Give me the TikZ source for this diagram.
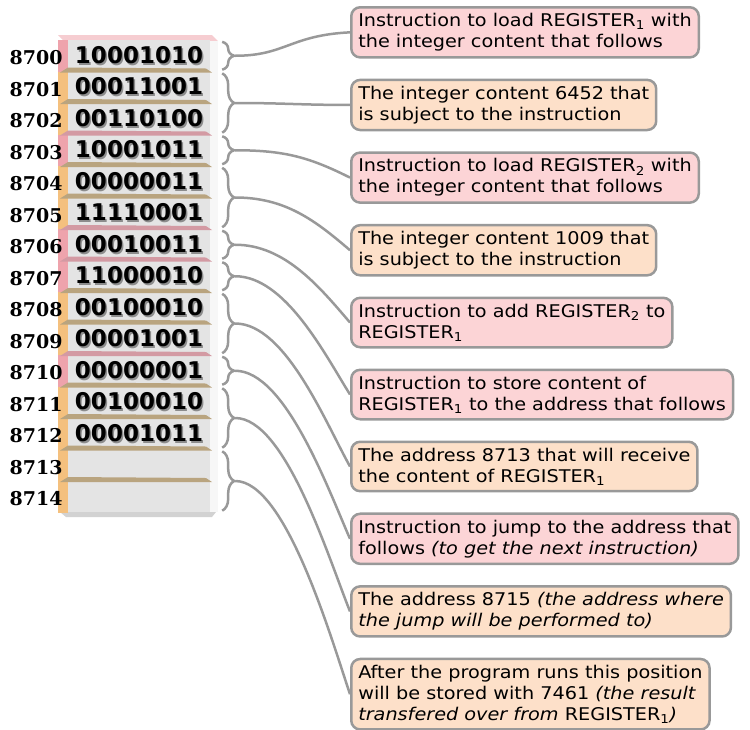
\documentclass[tikz,border=0pt]{standalone}
\usepackage{fontspec}
\setmainfont{DejaVu Sans}[FakeStretch=1.1]
\newfontfamily\addrfont{DejaVu Serif}
\newfontfamily\bitfont{DejaVu Sans}
\usetikzlibrary{positioning,calc,decorations.pathreplacing}

\definecolor{instrfill}{HTML}{FCD4D6}
\definecolor{datafill}{HTML}{FDE0C9}
\definecolor{instrside}{HTML}{EEA3AC}
\definecolor{dataside}{HTML}{F4C07E}
\definecolor{instrshelf}{HTML}{D39AA3}
\definecolor{datashelf}{HTML}{B9A47F}
\definecolor{edgegray}{HTML}{999999}
\definecolor{facegray}{HTML}{E4E4E4}

\tikzset{
  note/.style={draw=edgegray, line width=2.5pt, rounded corners=9pt, align=left,
    inner xsep=7pt, inner ysep=6.1pt, font=\fontsize{17.5}{21}\selectfont},
  instr/.style={note, fill=instrfill},
  datum/.style={note, fill=datafill},
  cell/.style={minimum width=142pt, minimum height=31.5pt, inner sep=0pt,
    font=\bitfont\bfseries\fontsize{23}{23}\selectfont},
  addr/.style={font=\addrfont\bfseries\fontsize{19}{19}\selectfont, inner sep=0pt, anchor=east},
  grp/.style={draw=edgegray, line width=2.5pt, decorate, decoration={brace, amplitude=12pt}},
  link/.style={draw=edgegray, line width=2.5pt},
}

\newcommand{\shadowbits}[1]{\rlap{\raisebox{-2pt}{\kern1.5pt\textcolor{black!45}{#1}}}#1}
\newcommand{\regsub}[1]{REGISTER\textsubscript{#1}}

\begin{document}
\begin{tikzpicture}[x=1pt, y=-1pt]
  \useasboundingbox (0,0) rectangle (750,729);

  % memory column
  \fill[instrside!55] (58,35) -- (212,35) -- (218,41) -- (64,41) -- cycle;
  \fill[gray!6] (210,41) rectangle (218,512);
  \fill[gray!35] (60,512) -- (216,512) -- (212,517) -- (66,517) -- cycle;
  \fill[facegray] (68,40) rectangle (210,512);
  \foreach \i/\bits/\side/\shelf in {
      0/10001010/instrside/instrshelf, 1/00011001/dataside/datashelf,
      2/00110100/dataside/datashelf, 3/10001011/instrside/instrshelf,
      4/00000011/dataside/datashelf, 5/11110001/dataside/datashelf,
      6/00010011/instrside/instrshelf, 7/11000010/instrside/instrshelf,
      8/00100010/dataside/datashelf, 9/00001001/dataside/datashelf,
      10/00000001/instrside/instrshelf, 11/00100010/dataside/datashelf,
      12/00001011/dataside/datashelf, 13//dataside/datashelf,
      14//dataside/datashelf}
  {
    \fill[\side] (58,{40+31.5*\i}) rectangle (68,{71.5+31.5*\i});
    \ifnum\i>0
      \fill[\shelf] (60,{41+31.5*\i}) -- (212,{41+31.5*\i}) -- (206,{37+31.5*\i}) -- (68,{36+31.5*\i}) -- cycle;
    \fi
    \pgfmathtruncatemacro\addr{8700+\i}
    \node[cell] (r\i) at (139,{55.75+31.5*\i}) {\shadowbits{\bits}};
    \node[addr] (a\i) at ([xshift=-5pt,yshift=-2pt]r\i.west) {\addr};
  }

  % notes
  \node[instr, anchor=north west] (b1) at (350,6)
    {Instruction to load \regsub{1} with\\the integer content that follows};
  \node[datum, below=20pt of b1.south west, anchor=north west] (b2)
    {The integer content 6452 that\\is subject to the instruction};
  \node[instr, below=20pt of b2.south west, anchor=north west] (b3)
    {Instruction to load \regsub{2} with\\the integer content that follows};
  \node[datum, below=20pt of b3.south west, anchor=north west] (b4)
    {The integer content 1009 that\\is subject to the instruction};
  \node[instr, below=20pt of b4.south west, anchor=north west] (b5)
    {Instruction to add \regsub{2} to\\\regsub{1}};
  \node[instr, below=20pt of b5.south west, anchor=north west] (b6)
    {Instruction to store content of\\\regsub{1} to the address that follows};
  \node[datum, below=20pt of b6.south west, anchor=north west] (b7)
    {The address 8713 that will receive\\the content of \regsub{1}};
  \node[instr, below=20pt of b7.south west, anchor=north west] (b8)
    {Instruction to jump to the address that\\follows \textit{(to get the next instruction)}};
  \node[datum, below=20pt of b8.south west, anchor=north west] (b9)
    {The address 8715 \textit{(the address where}\\\textit{the jump will be performed to)}};
  \node[datum, below=20pt of b9.south west, anchor=north west] (b10)
    {After the program runs this position\\will be stored with 7461 \textit{(the result}\\\textit{transfered over from} \regsub{1}\textit{)}};

  % braces and links
  \foreach \s/\e/\k/\dx/\dy in {0/0/1/-60/3, 1/2/2/-50/0, 3/3/3/-40/-20,
      4/5/4/-35/-30, 6/6/5/-30/-35, 7/7/6/-25/-40, 8/9/7/-25/-45,
      10/10/8/-22/-50, 11/12/9/-22/-55, 13/14/10/-20/-60}
  {
    \draw[grp] ([xshift=12pt,yshift=-2pt]r\s.north east) -- ([xshift=12pt,yshift=2pt]r\e.south east);
    \coordinate (t\k) at ($(r\s.north east)!0.5!(r\e.south east)+(25,0)$);
    \draw[link] (t\k) .. controls +(50,0) and +(\dx,\dy) .. (b\k.west);
  }
\end{tikzpicture}
\end{document}
